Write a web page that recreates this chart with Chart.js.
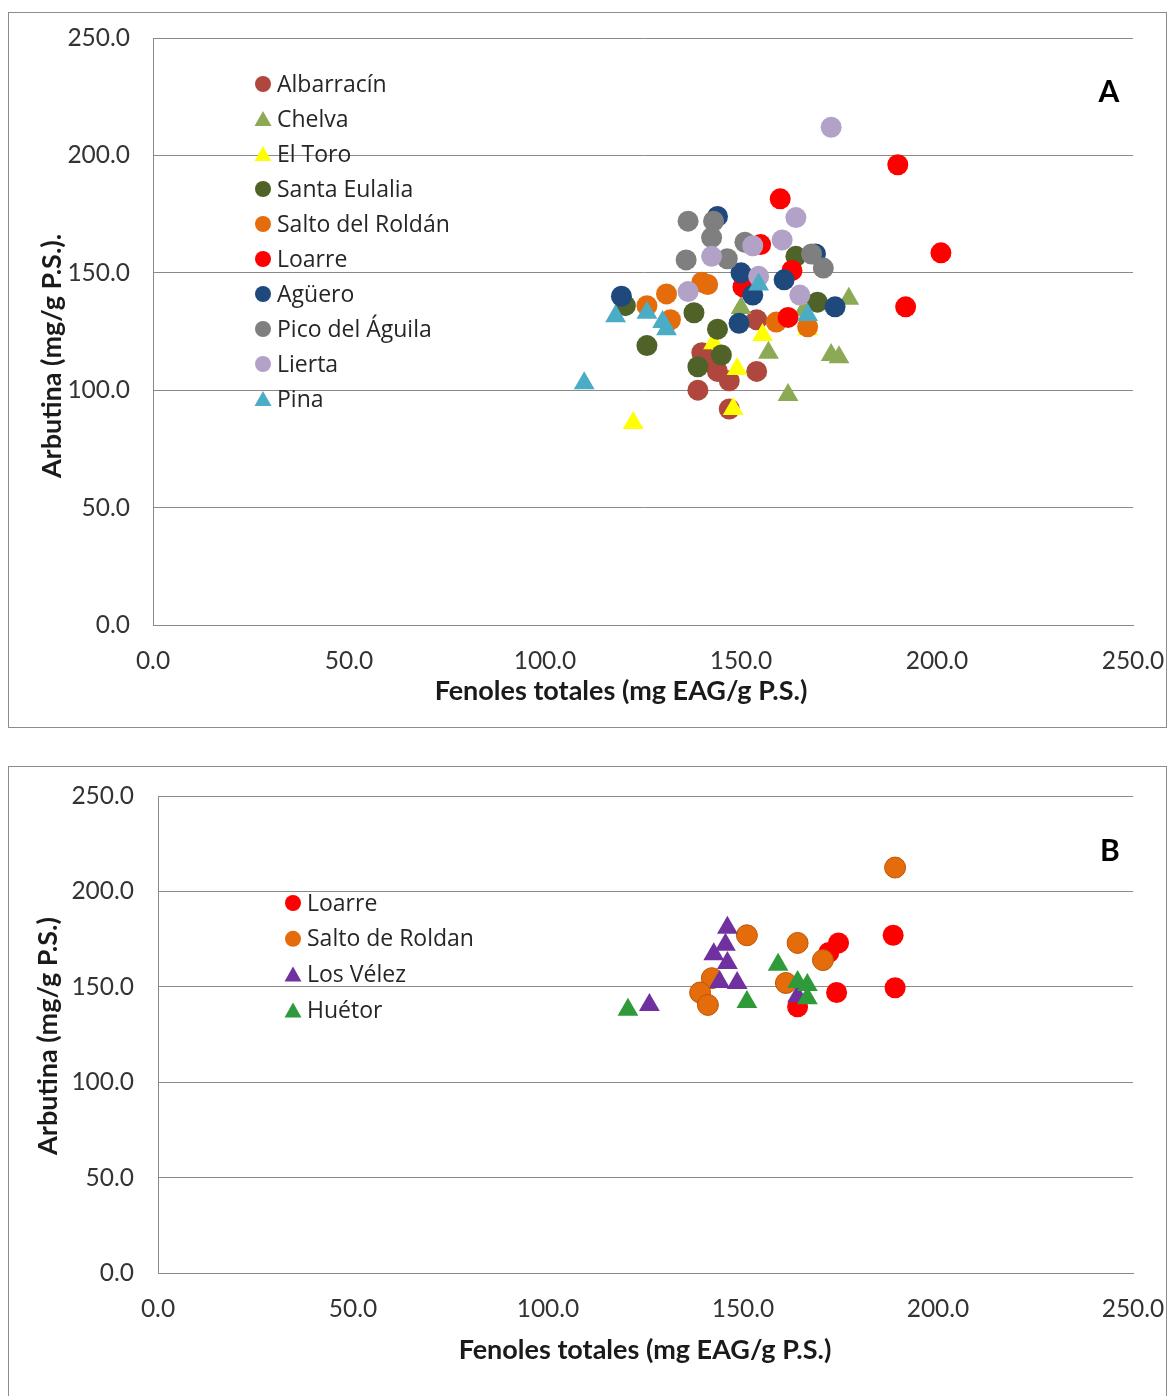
<!DOCTYPE html>
<html>
<head>
<meta charset="utf-8">
<script src="https://cdn.jsdelivr.net/npm/chart.js@4"></script>
<style>
  body { margin: 0; background: #fff; width: 1167px; height: 1396px; position: relative; overflow: hidden; }
  .box { position: absolute; left: 8px; border: 1px solid #8c8c8c; background: #fff; }
  #boxA { top: 12px; width: 1157px; height: 714px; }
  #boxB { top: 766px; width: 1157px; height: 640px; border-bottom: none; }
  canvas { display: block; }
</style>
</head>
<body>
<div class="box" id="boxA"><canvas id="chartA" width="1157" height="714"></canvas></div>
<div class="box" id="boxB"><canvas id="chartB" width="1157" height="629"></canvas></div>
<script>
// tick values shared by both axes of both panels
const tickValues = [0, 50, 100, 150, 200, 250];

// panel A: [fenoles totales, arbutina]
const namesA = ["Albarracín", "Chelva", "El Toro", "Santa Eulalia", "Salto del Roldán",
  "Loarre", "Agüero", "Pico del Águila", "Lierta", "Pina"];
const albarracin = [[154, 130], [140, 116], [142, 112], [144, 108], [147, 104], [139, 100], [154, 108], [147, 92]];
const chelva = [[150, 135], [166, 134], [177.5, 139], [157, 116], [173, 115], [175, 114], [162, 98]];
const elToro = [[122.5, 86], [148, 92], [149, 109], [143, 120], [155.5, 123.5], [167, 126]];
const santaEulalia = [[120.5, 136], [138, 133], [144, 126], [126, 119], [145, 115], [139, 110], [164, 157], [169.5, 137.5]];
const saltoRoldan = [[140, 146], [141.5, 145], [131, 141], [126, 136], [132, 130], [159, 129], [167, 127]];
const loarreA = [[190, 196], [201, 158.5], [192, 135.5], [160, 181.5], [155, 162], [163, 151], [162, 131], [150.5, 144]];
const aguero = [[119.5, 140], [144, 174], [150, 150], [153, 140.5], [161, 147], [149.5, 128.5], [174, 135.5], [169, 158]];
const picoAguila = [[136.5, 172], [143, 172], [142.5, 165], [136, 155.5], [146.5, 156], [151, 163], [168, 158], [171, 152]];
const lierta = [[173, 212], [164, 173.5], [160.5, 164], [142.5, 157], [153, 161.5], [154.5, 148.5], [136.5, 142], [165, 140.5]];
const pina = [[110, 103], [118, 131.5], [126, 133], [130, 129], [131, 126], [154.5, 145], [167, 132]];

// panel B
const namesB = ["Loarre", "Salto de Roldan", "Los Vélez", "Huétor"];
const loarreB = [[188.5, 177], [189, 149.5], [174.5, 173], [172, 168], [174, 147], [164, 139.5]];
const saltoB = [[189, 212.5], [151, 177], [164, 173], [170.5, 164], [161, 152], [142, 154.5], [139, 147], [141, 140.5]];
const losVelez = [[146, 181], [145.5, 172], [142.5, 167], [146, 162.5], [144, 152.5], [148.5, 152], [126, 140.5], [164, 145]];
const huetor = [[120.5, 138], [151, 142], [159, 161.5], [164, 152.5], [166.5, 151], [166.5, 144]];

const toPoints = arr => arr.map(p => ({ x: p[0], y: p[1] }));

function makeSet(label, pts, color, style, border) {
  return {
    label: label,
    data: toPoints(pts),
    pointStyle: style,
    pointRadius: style === "triangle" ? 12 : 10.5,
    pointHoverRadius: style === "triangle" ? 12 : 10.5,
    backgroundColor: color,
    borderColor: border || color,
    borderWidth: border ? 1 : 0,
    showLine: false,
  };
}

// draws the in-plot legend, the panel letter and both axis titles
const overlay = {
  id: "overlay",
  afterDraw(chart, args, o) {
    const ctx = chart.ctx;
    ctx.save();
    chart.data.datasets.forEach((ds, i) => {
      const y = o.legendY + i * o.legendStep;
      ctx.fillStyle = ds.backgroundColor;
      ctx.beginPath();
      if (ds.pointStyle === "triangle") {
        ctx.moveTo(o.legendX, y - 8);
        ctx.lineTo(o.legendX + 8.5, y + 7);
        ctx.lineTo(o.legendX - 8.5, y + 7);
        ctx.closePath();
      } else {
        ctx.arc(o.legendX, y, 8, 0, Math.PI * 2);
      }
      ctx.fill();
      ctx.fillStyle = "#262626";
      ctx.font = '23px "Open Sans"';
      ctx.textAlign = "left";
      ctx.textBaseline = "middle";
      ctx.fillText(ds.label, o.textX, y + 1);
    });
    ctx.fillStyle = "#000";
    ctx.font = "bold 30px Lato";
    ctx.textAlign = "center";
    ctx.fillText(o.letter, o.letterX, o.letterY);
    ctx.fillStyle = "#1a1a1a";
    ctx.font = "bold 27px Lato";
    ctx.fillText(o.xTitle, o.xTitleX, o.xTitleY);
    ctx.translate(o.yTitleX, o.yTitleY);
    ctx.rotate(-Math.PI / 2);
    ctx.fillText(o.yTitle, 0, 0);
    ctx.restore();
  }
};

function makeOptions(yWidth, yTickPad, xHeight, pad, ov) {
  return {
    responsive: false,
    animation: false,
    layout: { padding: pad },
    plugins: { legend: { display: false }, tooltip: { enabled: false }, overlay: ov },
    scales: {
      x: {
        type: "linear", min: 0, max: 250,
        afterBuildTicks: s => { s.ticks = tickValues.map(v => ({ value: v })); },
        afterFit: s => { s.height = xHeight; s.paddingLeft = 0; s.paddingRight = 0; },
        grid: { display: false, drawTicks: false },
        border: { display: true, color: "#8a8a8a" },
        ticks: { padding: 21, color: "#333", font: { family: "Lato", size: 24.5 }, callback: v => v.toFixed(1) },
      },
      y: {
        type: "linear", min: 0, max: 250,
        afterBuildTicks: s => { s.ticks = tickValues.map(v => ({ value: v })); },
        afterFit: s => { s.width = yWidth; s.paddingTop = 0; s.paddingBottom = 0; },
        grid: { color: "#8a8a8a", drawTicks: false },
        border: { display: true, color: "#8a8a8a" },
        ticks: { padding: yTickPad, color: "#333", font: { family: "Lato", size: 24.5 }, callback: v => v.toFixed(1) },
      },
    },
  };
}

const setsA = [
  makeSet(namesA[0], albarracin, "#B0473F", "circle"),
  makeSet(namesA[1], chelva, "#8CAA56", "triangle"),
  makeSet(namesA[2], elToro, "#FFFF00", "triangle"),
  makeSet(namesA[3], santaEulalia, "#4F6228", "circle"),
  makeSet(namesA[4], saltoRoldan, "#E46C0A", "circle"),
  makeSet(namesA[5], loarreA, "#FF0000", "circle"),
  makeSet(namesA[6], aguero, "#1F497D", "circle"),
  makeSet(namesA[7], picoAguila, "#7F7F7F", "circle"),
  makeSet(namesA[8], lierta, "#B3A2C7", "circle"),
  makeSet(namesA[9], pina, "#4BACC6", "triangle"),
];
setsA.forEach((d, i) => { d.order = -i; });

const setsB = [
  makeSet(namesB[0], loarreB, "#FF0000", "circle"),
  makeSet(namesB[1], saltoB, "#E46C0A", "circle", "#B9560A"),
  makeSet(namesB[2], losVelez, "#7030A0", "triangle"),
  makeSet(namesB[3], huetor, "#2E9A3A", "triangle"),
];
setsB.forEach((d, i) => { d.order = -i; });

new Chart(document.getElementById("chartA").getContext("2d"), {
  type: "scatter",
  data: { datasets: setsA },
  options: makeOptions(144, 23, 102,
    { left: 0, right: 33, top: 25, bottom: 0 },
    { legendX: 254, legendY: 71, legendStep: 35, textX: 268, letter: "A", letterX: 1100, letterY: 79,
      xTitle: "Fenoles totales (mg EAG/g P.S.)", xTitleX: 612, xTitleY: 678,
      yTitle: "Arbutina (mg/g P.S.).", yTitleX: 43, yTitleY: 343 }),
  plugins: [overlay],
});

new Chart(document.getElementById("chartB").getContext("2d"), {
  type: "scatter",
  data: { datasets: setsB },
  options: makeOptions(149, 24, 123,
    { left: 0, right: 33, top: 29, bottom: 0 },
    { legendX: 284, legendY: 136, legendStep: 35.8, textX: 298, letter: "B", letterX: 1101, letterY: 84,
      xTitle: "Fenoles totales (mg EAG/g P.S.)", xTitleX: 636, xTitleY: 583,
      yTitle: "Arbutina (mg/g P.S.)", yTitleX: 39, yTitleY: 269 }),
  plugins: [overlay],
});
</script>
</body>
</html>
